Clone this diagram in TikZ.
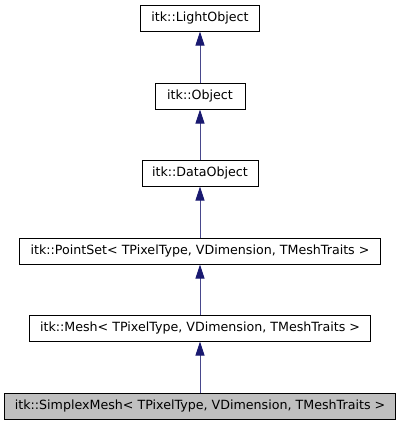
\documentclass[tikz,border=0pt]{standalone}
\usepackage{fontspec}
\setmainfont{DejaVu Sans}
\usepackage{tikz}
\usetikzlibrary{arrows.meta}
\definecolor{edgeblue}{RGB}{25,25,112}
\definecolor{edgeline}{RGB}{72,72,140}
\definecolor{curclass}{RGB}{191,191,191}

\tikzset{
  classbox/.style={draw=black, line width=0.7pt, fill=white, minimum height=17.8pt,
    inner sep=0pt, font=\fontsize{9pt}{11pt}\selectfont},
  inherit/.style={draw=edgeline, line width=0.7pt,
    -{Triangle[length=10pt,width=6.4pt,color=edgeblue]}}
}

\begin{document}
\begin{tikzpicture}[x=0.025cm,y=-0.025cm]
\useasboundingbox (0,0) rectangle (400,427);
\node[classbox, minimum width=85pt] (lightobj) at (200,18.5) {itk::LightObject};
\node[classbox, minimum width=64pt] (object) at (200,96.5) {itk::Object};
\node[classbox, minimum width=82.5pt] (dataobj) at (200,173.5) {itk::DataObject};
\node[classbox, minimum width=256.8pt] (pointset) at (200,251.5) {itk::PointSet< TPixelType, VDimension, TMeshTraits >};
\node[classbox, minimum width=242.5pt] (mesh) at (200,328.5) {itk::Mesh< TPixelType, VDimension, TMeshTraits >};
\node[classbox, fill=curclass, minimum width=278pt] (simplex) at (200,406.5) {itk::SimplexMesh< TPixelType, VDimension, TMeshTraits >};
\draw[inherit] (object) -- (lightobj);
\draw[inherit] (dataobj) -- (object);
\draw[inherit] (pointset) -- (dataobj);
\draw[inherit] (mesh) -- (pointset);
\draw[inherit] (simplex) -- (mesh);
\end{tikzpicture}
\end{document}
